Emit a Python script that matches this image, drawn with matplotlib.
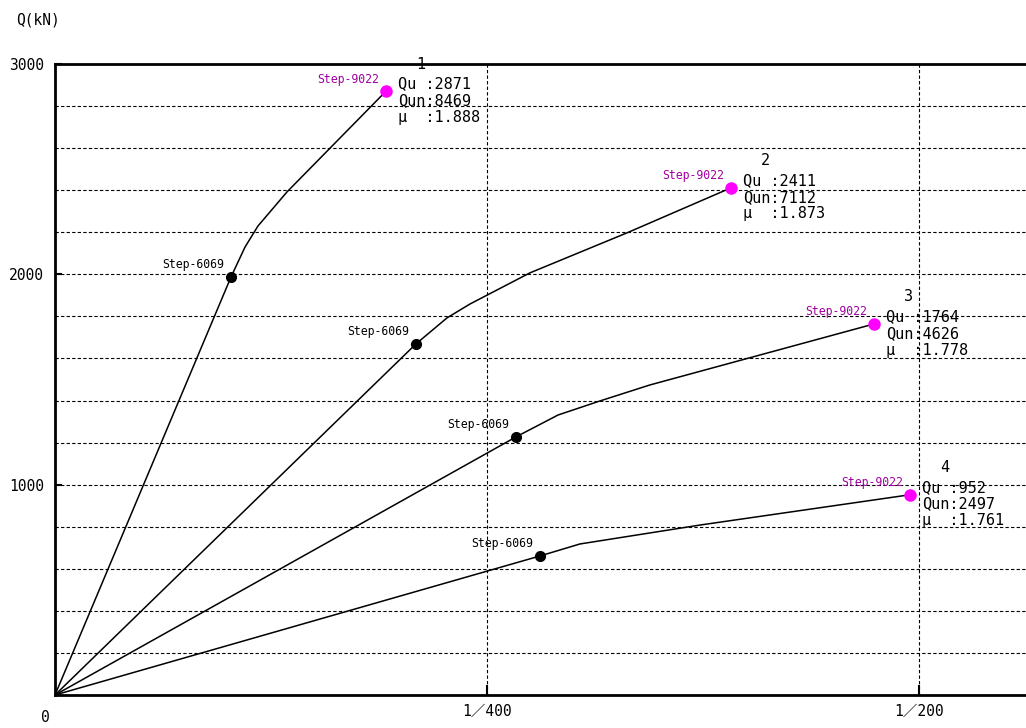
import matplotlib
matplotlib.use("Agg")
import matplotlib.pyplot as plt

# story drift (rad) and shear Q (kN) for each curve
curve_names = ["1", "2", "3", "4"]
drift_1 = [0.0, 0.001019, 0.0011, 0.001175, 0.001343, 0.001916]
shear_1 = [0, 1988, 2130, 2230, 2392, 2871]
drift_2 = [0.0, 0.002089, 0.002269, 0.002402, 0.002749, 0.00331, 0.003912]
shear_2 = [0, 1669, 1793, 1859, 2007, 2197, 2411]
drift_3 = [0.0, 0.002668, 0.002911, 0.003154, 0.003443, 0.00474]
shear_3 = [0, 1227, 1331, 1398, 1474, 1764]
drift_4 = [0.0, 0.002807, 0.003038, 0.003733, 0.004948]
shear_4 = [0, 661, 718, 808, 952]

# index of the Step-6069 point in every curve (the last point is Step-9022)
step_6069_index = [1, 1, 1, 1]
qu_values = [2871, 2411, 1764, 952]
qun_values = [8469, 7112, 4626, 2497]
mu_values = ["1.888", "1.873", "1.778", "1.761"]

x_ticks = [0.0025, 0.005]
x_tick_labels = ["1／400", "1／200"]
y_ticks = [1000, 2000, 3000]

plt.rcParams["font.family"] = ["DejaVu Sans Mono", "Noto Sans CJK JP"]

fig = plt.figure(figsize=(10.26, 7.28), dpi=100)
ax = fig.add_axes([55 / 1026, 33 / 728, 1 - 55 / 1026, 631 / 728])
ax.set_xlim(0, 0.00562)
ax.set_ylim(0, 3000)

# grid: dashed horizontals every 200 kN, verticals at 1/400 and 1/200
for q in range(200, 3000, 200):
    ax.axhline(q, color="black", lw=0.8, ls=(0, (3, 2)), zorder=1)
for x in x_ticks:
    ax.axvline(x, color="black", lw=0.8, ls=(0, (3, 2)), zorder=1)

drifts = [drift_1, drift_2, drift_3, drift_4]
shears = [shear_1, shear_2, shear_3, shear_4]
px = 0.72  # one pixel in points

for i in range(4):
    xs, ys = drifts[i], shears[i]
    ax.plot(xs, ys, color="black", lw=1.1, zorder=3)

    k = step_6069_index[i]
    ax.plot(xs[k], ys[k], "o", color="black", ms=7, zorder=4)
    ax.annotate("Step-6069", (xs[k], ys[k]), xytext=(-7 * px, 12 * px),
                textcoords="offset points", ha="right", va="center",
                fontsize=8.3, color="black")

    ax.plot(xs[-1], ys[-1], "o", color="#ff00ff", ms=8, zorder=4)
    ax.annotate("Step-9022", (xs[-1], ys[-1]), xytext=(-7 * px, 12 * px),
                textcoords="offset points", ha="right", va="center",
                fontsize=8.3, color="#a000a0")

    info = "Qu :%d\nQun:%d\nμ  :%s" % (qu_values[i], qun_values[i], mu_values[i])
    ax.annotate(info, (xs[-1], ys[-1]), xytext=(12 * px, 15 * px),
                textcoords="offset points", ha="left", va="top",
                fontsize=11, linespacing=1.15, zorder=5)
    ax.annotate(curve_names[i], (xs[-1], ys[-1]), xytext=(35 * px, 27 * px),
                textcoords="offset points", ha="center", va="center",
                fontsize=11)

# axes frame
for side in ["left", "bottom", "top"]:
    ax.spines[side].set_linewidth(2)
ax.spines["right"].set_visible(False)

ax.set_xticks(x_ticks)
ax.set_xticklabels(x_tick_labels, fontsize=10.5)
ax.set_yticks(y_ticks)
ax.set_yticklabels([str(v) for v in y_ticks], fontsize=10.5)
ax.tick_params(axis="x", direction="in", length=7, width=1.5, pad=6)
ax.tick_params(axis="y", direction="in", length=5, width=1.5, pad=8)

fig.text(45 / 1026, 1 - 717 / 728, "0", fontsize=10.5, ha="center", va="center")
fig.text(16 / 1026, 1 - 20 / 728, "Q(kN)", fontsize=10.5, ha="left", va="center")

fig.savefig("out.png", dpi=100)
